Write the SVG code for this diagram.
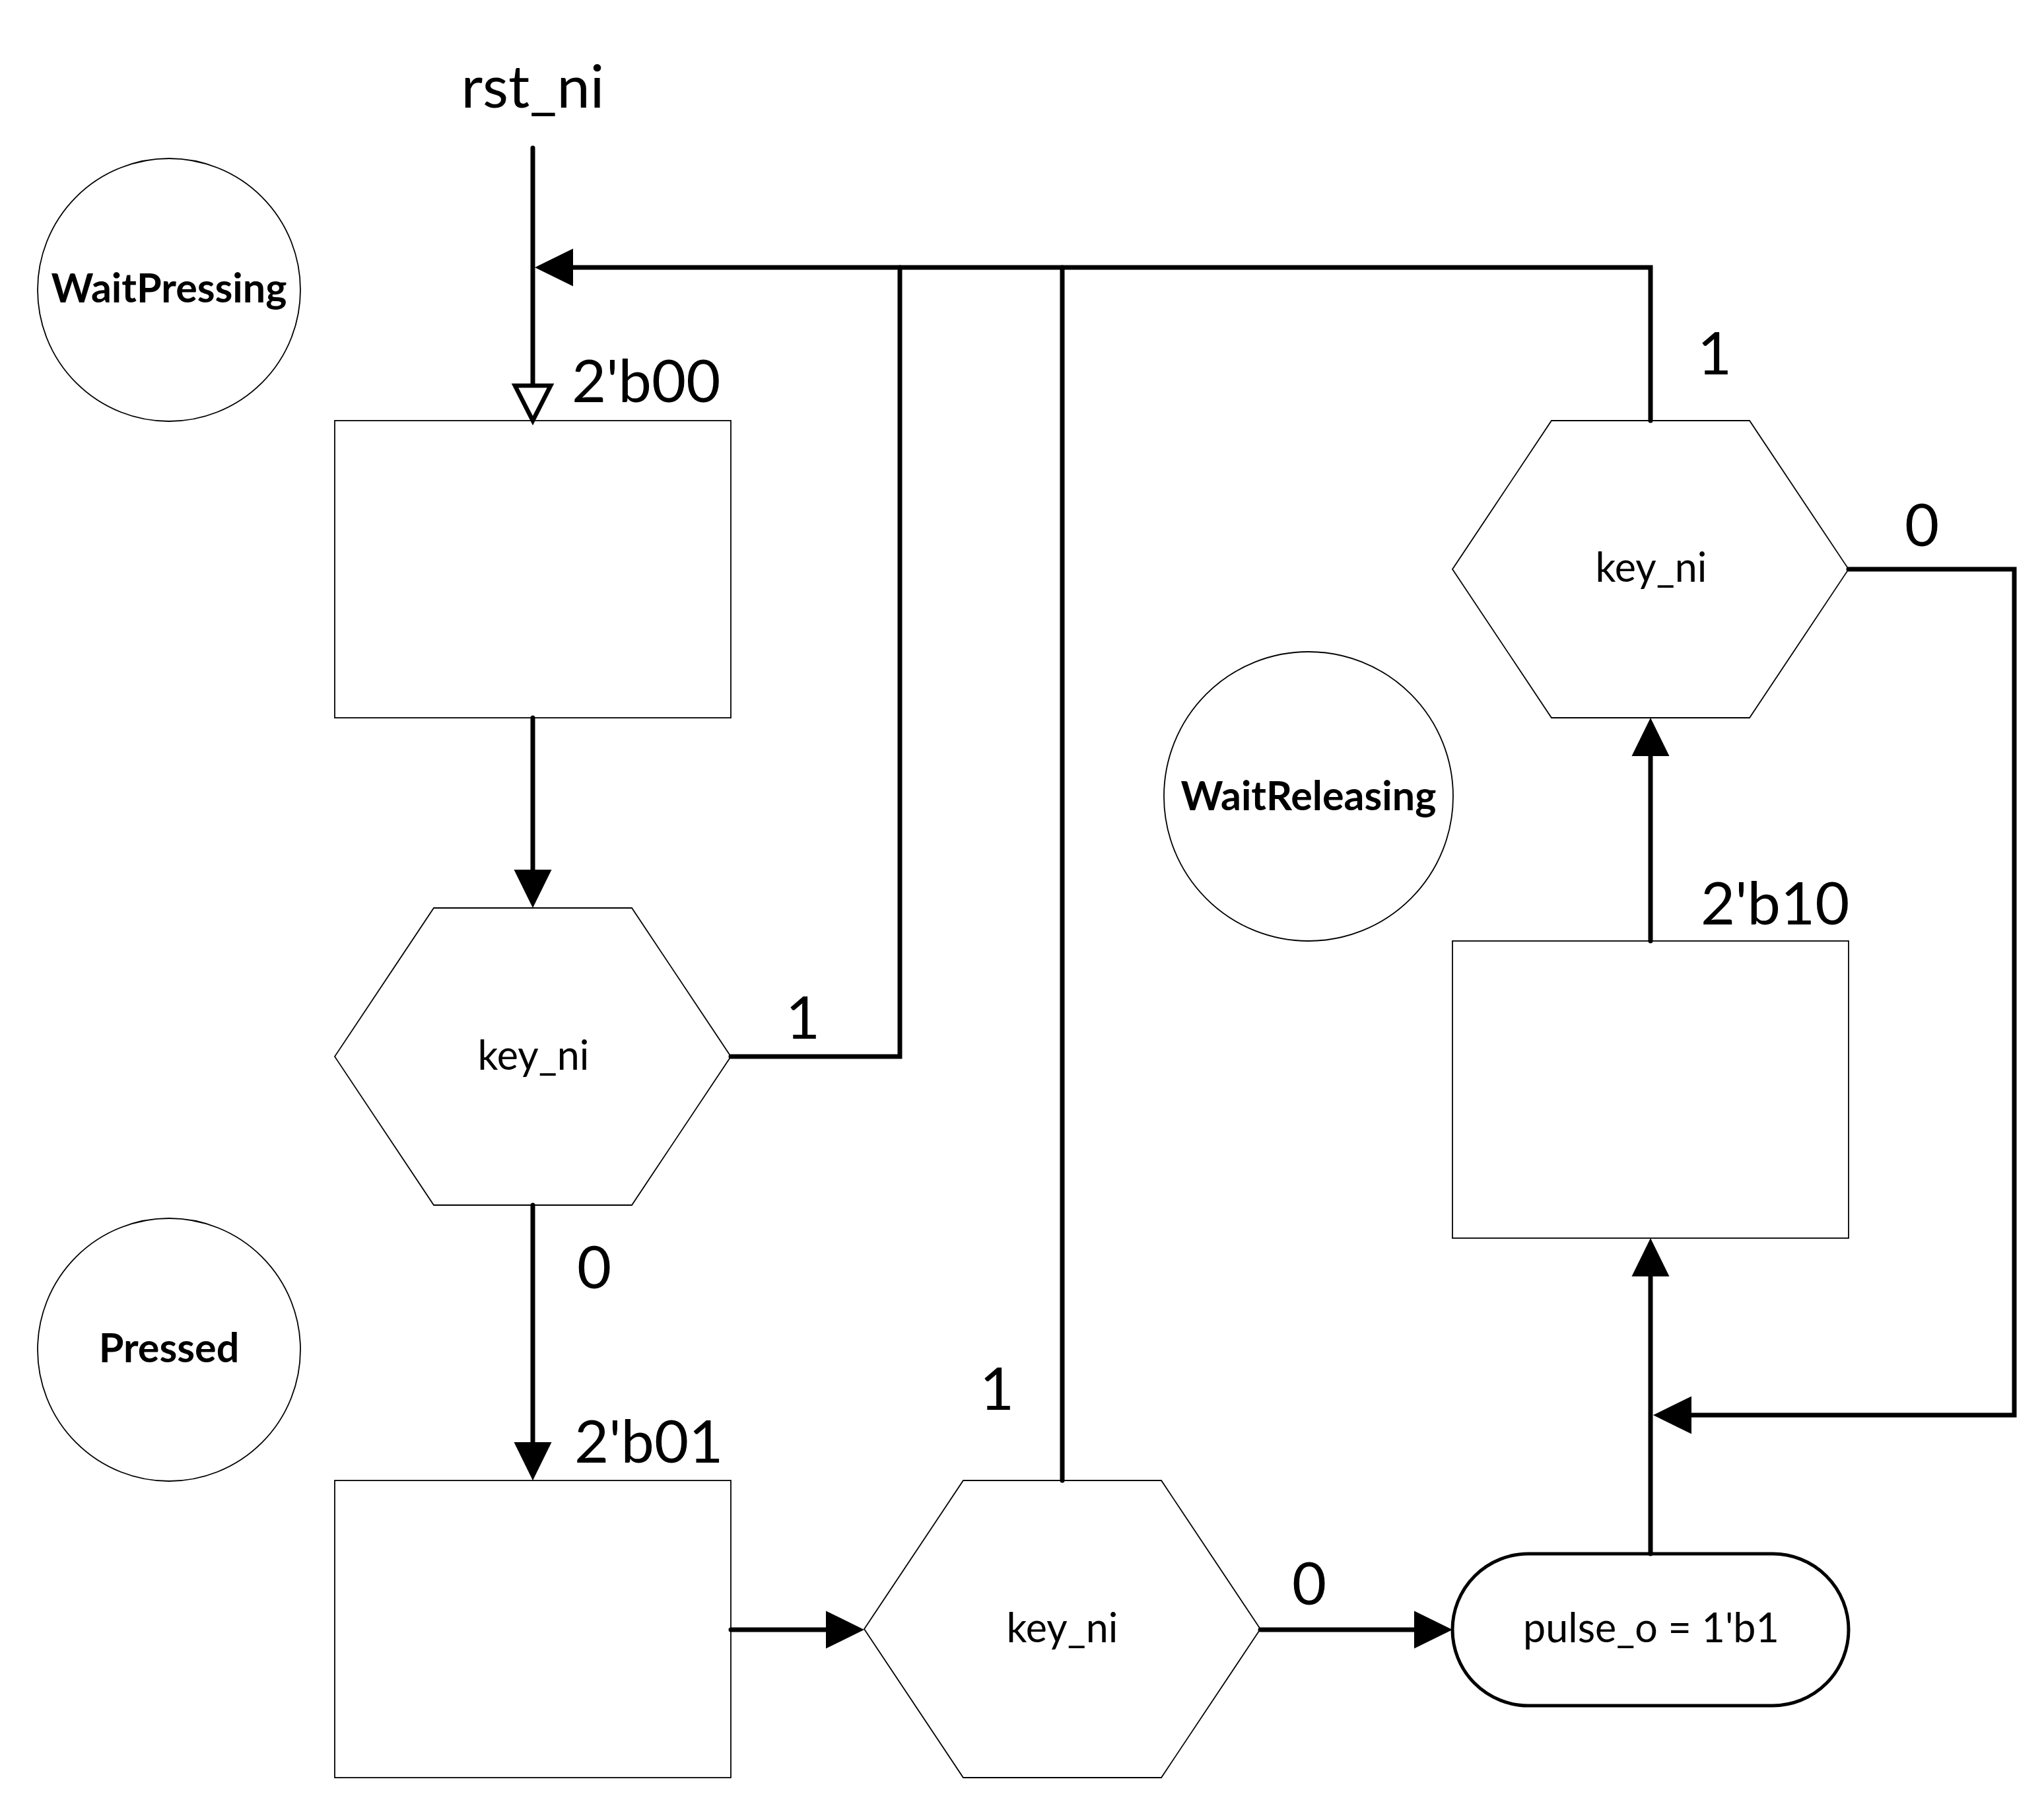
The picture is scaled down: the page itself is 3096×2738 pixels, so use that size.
<svg xmlns="http://www.w3.org/2000/svg" width="3096" height="2738" viewBox="0 0 3096 2738">
<style>
.bg{fill:#fff}
.shape{fill:#fff;stroke:#000;stroke-width:1.8}
.pill{fill:#fff;stroke:#000;stroke-width:5}
.wire{fill:none;stroke:#000;stroke-width:7;stroke-linecap:round;stroke-linejoin:miter}
.big{font-family:Lato,"Liberation Sans",sans-serif;font-size:90px;fill:#000}
.small{font-family:Lato,"Liberation Sans",sans-serif;font-size:61px;fill:#000;text-anchor:middle}
.bold{font-family:Lato,"Liberation Sans",sans-serif;font-size:61px;font-weight:bold;fill:#000;text-anchor:middle}
.mid{text-anchor:middle}
</style>
<defs>
<marker id="ah" markerUnits="userSpaceOnUse" markerWidth="60" markerHeight="60" viewBox="0 -30 60 60" refX="0" refY="0" orient="auto" overflow="visible">
<path d="M0,-28.5 L58,0 L0,28.5 z" fill="#000"/>
</marker>
<marker id="oh" markerUnits="userSpaceOnUse" markerWidth="70" markerHeight="70" viewBox="-5 -35 70 70" refX="0" refY="0" orient="auto" overflow="visible">
<path d="M0,-27 L53,0 L0,27 z" fill="#fff" stroke="#000" stroke-width="6.5" stroke-linejoin="miter"/>
</marker>
</defs>
<rect class="bg" x="0" y="0" width="3096" height="2738"/>

<g id="state-waitpressing">
<circle class="shape" cx="256" cy="439" r="199"/>
<text class="bold" x="256" y="458">WaitPressing</text>
</g>
<g id="state-pressed">
<circle class="shape" cx="256" cy="2044" r="199"/>
<text class="bold" x="256" y="2063">Pressed</text>
</g>
<g id="state-waitreleasing">
<circle class="shape" cx="1982" cy="1206" r="219"/>
<text class="bold" x="1982" y="1227">WaitReleasing</text>
</g>

<g id="reset-input">
<text class="big mid" x="807" y="163">rst_ni</text>
</g>

<g id="box-2b00">
<rect class="shape" x="507" y="637" width="600" height="450"/>
<text class="big" x="866" y="609">2'b00</text>
</g>
<g id="decision-1">
<polygon class="shape" points="507,1600 657,1375 957,1375 1107,1600 957,1825 657,1825"/>
<text class="small" x="808" y="1620">key_ni</text>
</g>
<g id="box-2b01">
<rect class="shape" x="507" y="2242" width="600" height="450"/>
<text class="big" x="870" y="2215">2'b01</text>
</g>
<g id="decision-2">
<polygon class="shape" points="1309,2467 1459,2242 1759,2242 1909,2467 1759,2692 1459,2692"/>
<text class="small" x="1609" y="2487">key_ni</text>
</g>
<g id="action-pulse">
<rect class="pill" x="2200" y="2353" width="600" height="230" rx="115" ry="115"/>
<text class="small" x="2501" y="2487">pulse_o = 1'b1</text>
</g>
<g id="box-2b10">
<rect class="shape" x="2200" y="1425" width="600" height="450"/>
<text class="big" x="2576" y="1400">2'b10</text>
</g>
<g id="decision-3">
<polygon class="shape" points="2200,862 2350,637 2650,637 2800,862 2650,1087 2350,1087"/>
<text class="small" x="2501" y="881">key_ni</text>
</g>

<g id="connectors">
<path class="wire" d="M807,224 V584" marker-end="url(#oh)"/>
<path class="wire" d="M2500,637 V405 H868" marker-end="url(#ah)"/>
<path class="wire" d="M1107,1600 H1363 V405"/>
<path class="wire" d="M1609,2242 V405"/>
<path class="wire" d="M807,1087 V1317" marker-end="url(#ah)"/>
<path class="wire" d="M807,1825 V2184" marker-end="url(#ah)"/>
<path class="wire" d="M1107,2468 H1251" marker-end="url(#ah)"/>
<path class="wire" d="M1909,2468 H2142" marker-end="url(#ah)"/>
<path class="wire" d="M2500,2353 V1933" marker-end="url(#ah)"/>
<path class="wire" d="M2500,1425 V1145" marker-end="url(#ah)"/>
<path class="wire" d="M2800,862 H3051 V2143 H2562" marker-end="url(#ah)"/>
</g>

<g id="edge-labels">
<text class="big mid" x="1216" y="1573">1</text>
<text class="big mid" x="900" y="1951">0</text>
<text class="big mid" x="1510" y="2135">1</text>
<text class="big mid" x="1983" y="2430">0</text>
<text class="big mid" x="2911" y="827">0</text>
<text class="big mid" x="2597" y="567">1</text>
</g>
</svg>
